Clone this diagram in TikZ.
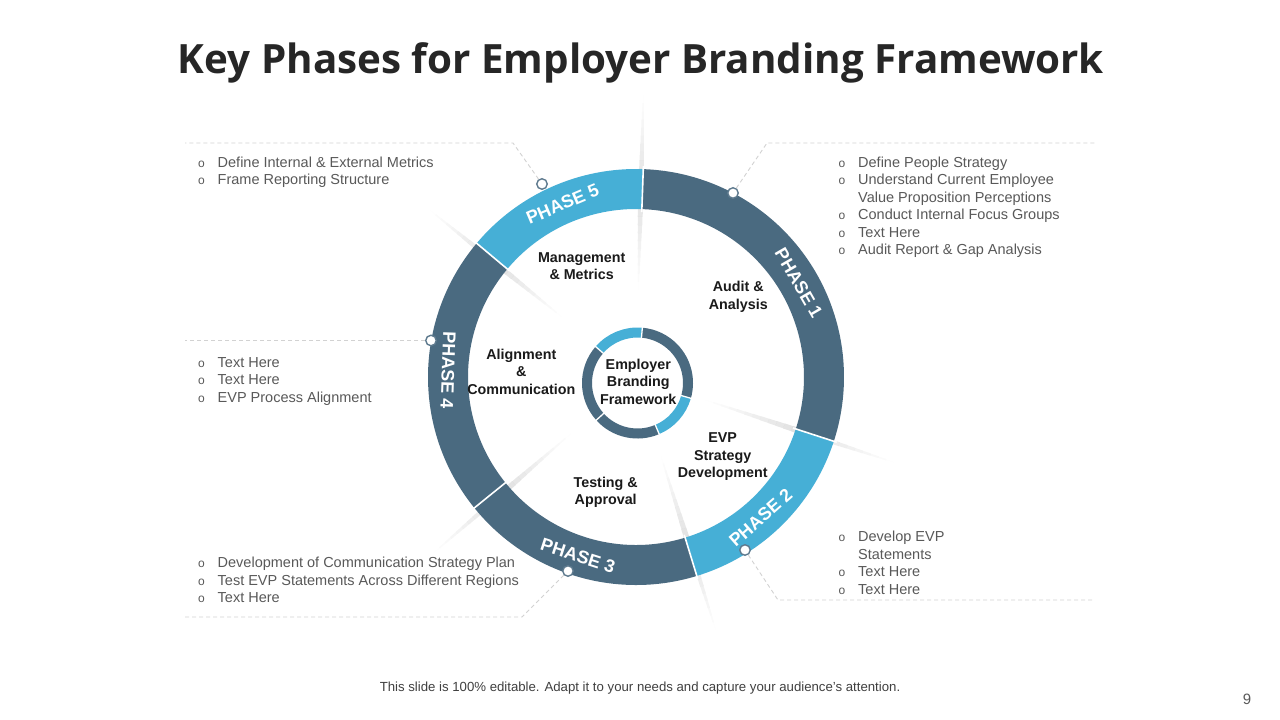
\documentclass[tikz,border=0pt]{standalone}
\usepackage{fontspec}
\setmainfont{Liberation Sans}
\newfontfamily\titlefont{Open Sans}
\definecolor{darkseg}{HTML}{4A6A80}
\definecolor{lightseg}{HTML}{46AFD6}
\definecolor{bodygray}{HTML}{595959}
\definecolor{titlegray}{HTML}{262626}
\definecolor{footgray}{HTML}{404040}
\definecolor{dashgray}{HTML}{D2D2D2}
\definecolor{dotline}{HTML}{5E7A8E}
\definecolor{labelblack}{HTML}{1A1A1A}
\newcommand\bul[4]{%
  \node[bult] (#1o) at ({#2-16},#3) {o};
  \node[itm] (#1) at (#2,#3) {#4};}
\newcommand\cont[4]{\node[itm] (#1) at (#2,#3) {#4};}
\newcommand\lab[4]{\node[lbl] (#1) at (#2,#3) {#4};}
\newcommand\streak[3]{%
  \foreach \i in {0,...,23}{%
    \pgfmathsetmacro\ra{#2+(#3-#2)*\i/24}%
    \pgfmathsetmacro\rb{#2+(#3-#2)*(\i+1)/24}%
    \pgfmathsetmacro\pk{1-abs(\i+0.5-12)/12}%
    \pgfmathsetmacro\op{0.12*\pk}%
    \pgfmathsetmacro\lw{1+5*\pk}%
    \draw[black, opacity=\op, line width=\lw pt] (#1:\ra) -- (#1:\rb);
  }}
\begin{document}
\begin{tikzpicture}[x=1pt,y=-1pt,
  lbl/.style={font=\fontsize{14.3}{17.6}\selectfont\bfseries, text=labelblack, anchor=base, inner sep=0pt},
  itm/.style={font=\fontsize{14.5}{17.5}\selectfont, text=bodygray, anchor=base west, inner sep=0pt},
  bult/.style={font=\fontsize{12}{12}\selectfont, text=bodygray, anchor=base, inner sep=0pt},
  phase/.style={font=\fontsize{18}{18}\selectfont\bfseries, text=white, inner sep=0pt, anchor=center},
  dotc/.style={circle, draw=dotline, fill=white, line width=1.4pt, minimum size=10.5pt, inner sep=0pt},
  dashl/.style={draw=dashgray, line width=0.9pt, dash pattern=on 4pt off 3pt},
  sep/.style={draw=white, line width=1.6pt},
]
\useasboundingbox (0,0) rectangle (1280,720);
\fill[white] (0,0) rectangle (1280,720);

% title
\node[anchor=base, inner sep=0pt, text=titlegray] (title) at (641,73)
  {\resizebox{926pt}{!}{\titlefont\bfseries\fontsize{40}{40}\selectfont Key Phases for Employer Branding Framework}};

% ring
\begin{scope}[shift={(636,377)}, x=1pt, y=1pt]
  \streak{88.5}{87}{282}
  \streak{-18.3}{73}{272}
  \streak{-72.5}{83}{265}
  \streak{221}{86}{268}
  \streak{141}{95}{265}
  % segments
  \fill[darkseg] (88:208) arc[start angle=88, end angle=-18, radius=208] -- (-18:168) arc[start angle=-18, end angle=88, radius=168] -- cycle;
  \fill[lightseg] (-18:208) arc[start angle=-18, end angle=-73, radius=208] -- (-73:168) arc[start angle=-73, end angle=-18, radius=168] -- cycle;
  \fill[darkseg] (-73:208) arc[start angle=-73, end angle=-141, radius=208] -- (-141:168) arc[start angle=-141, end angle=-73, radius=168] -- cycle;
  \fill[darkseg] (219:208) arc[start angle=219, end angle=140, radius=208] -- (140:168) arc[start angle=140, end angle=219, radius=168] -- cycle;
  \fill[lightseg] (140:208) arc[start angle=140, end angle=88, radius=208] -- (88:168) arc[start angle=88, end angle=140, radius=168] -- cycle;
  \foreach \a in {88,-18,-73,219,140}{\draw[sep] (\a:165) -- (\a:211);}
  % phase texts
  \node[phase, rotate=-60] (ph1) at (30:188) {PHASE 1};
  \node[phase, rotate=23] (ph5) at (113:188) {PHASE 5};
  \node[phase, rotate=-92] (ph4) at (178:188) {PHASE 4};
  \node[phase, rotate=-18] (ph3) at (-108:188) {PHASE 3};
  \node[phase, rotate=41.5] (ph2) at (-48.5:188) {PHASE 2};
\end{scope}

% inner ring
\begin{scope}[shift={(637.5,383)}, x=1pt, y=1pt]
  \draw[lightseg, line width=10pt] (85:50.5) arc[start angle=85, end angle=139, radius=50.5];
  \draw[darkseg, line width=10pt] (139:50.5) arc[start angle=139, end angle=222, radius=50.5];
  \draw[darkseg, line width=10pt] (222:50.5) arc[start angle=222, end angle=293, radius=50.5];
  \draw[lightseg, line width=10pt] (293:50.5) arc[start angle=293, end angle=344, radius=50.5];
  \draw[darkseg, line width=10pt] (344:50.5) arc[start angle=344, end angle=445, radius=50.5];
  \foreach \a in {85,139,222,293,344}{\draw[draw=white, line width=1.3pt] (\a:44) -- (\a:57);}
\end{scope}

% inner labels
\lab{mm1}{581.7}{262.3}{Management}
\lab{mm2}{581.7}{279.9}{\& Metrics}
\lab{aa1}{738.3}{291.7}{Audit \&}
\lab{aa2}{738.3}{309.3}{Analysis}
\lab{ac1}{521.3}{359}{Alignment}
\lab{ac2}{521.3}{376.6}{\&}
\lab{ac3}{521.3}{394.2}{Communication}
\lab{eb1}{638.3}{369}{Employer}
\lab{eb2}{638.3}{386.6}{Branding}
\lab{eb3}{638.3}{404.2}{Framework}
\lab{ev1}{722.7}{442.7}{EVP}
\lab{ev2}{722.7}{460.3}{Strategy}
\lab{ev3}{722.7}{477.9}{Development}
\lab{ta1}{605.7}{487.3}{Testing \&}
\lab{ta2}{605.7}{504.9}{Approval}

% dots and connectors
\node[dotc] (d5) at (542,184) {};
\node[dotc] (d1) at (733,193) {};
\node[dotc] (d4) at (431,340.5) {};
\node[dotc] (d3) at (568,571) {};
\node[dotc] (d2) at (745,550) {};
\coordinate (c5a) at (513,143);
\coordinate (c5b) at (185,143);
\coordinate (c1a) at (767,143);
\coordinate (c1b) at (1095,143);
\coordinate (c4b) at (185,340.5);
\coordinate (c3a) at (522,617);
\coordinate (c3b) at (185,617);
\coordinate (c2a) at (778,600);
\coordinate (c2b) at (1094,600);
\draw[dashl] (d5) -- (c5a) -- (c5b);
\draw[dashl] (d1) -- (c1a) -- (c1b);
\draw[dashl] (d4) -- (c4b);
\draw[dashl] (d3) -- (c3a) -- (c3b);
\draw[dashl] (d2) -- (c2a) -- (c2b);

% lists
\bul{p5a}{217.5}{167}{Define Internal \& External Metrics}
\bul{p5b}{217.5}{184.5}{Frame Reporting Structure}

\bul{p1a}{858}{167}{Define People Strategy}
\bul{p1b}{858}{184.5}{Understand Current Employee}
\cont{p1c}{858}{202}{Value Proposition Perceptions}
\bul{p1d}{858}{219.5}{Conduct Internal Focus Groups}
\bul{p1e}{858}{237}{Text Here}
\bul{p1f}{858}{254.5}{Audit Report \& Gap Analysis}

\bul{p4a}{217.5}{367}{Text Here}
\bul{p4b}{217.5}{384.5}{Text Here}
\bul{p4c}{217.5}{402}{EVP Process Alignment}

\bul{p3a}{217.5}{567.5}{Development of Communication Strategy Plan}
\bul{p3b}{217.5}{585}{Test EVP Statements Across Different Regions}
\bul{p3c}{217.5}{602.5}{Text Here}

\bul{p2a}{858}{541.5}{Develop EVP}
\cont{p2b}{858}{559}{Statements}
\bul{p2c}{858}{576.5}{Text Here}
\bul{p2d}{858}{594}{Text Here}

% footer
\node[anchor=base, inner sep=0pt, text=footgray, font=\fontsize{13.2}{14}\selectfont] (foot) at (640,691)
  {This slide is 100\% editable. Adapt it to your needs and capture your audience's attention.};
\node[anchor=base, inner sep=0pt, text=bodygray, font=\fontsize{15}{15}\selectfont] (pnum) at (1247,704) {9};
\end{tikzpicture}
\end{document}
